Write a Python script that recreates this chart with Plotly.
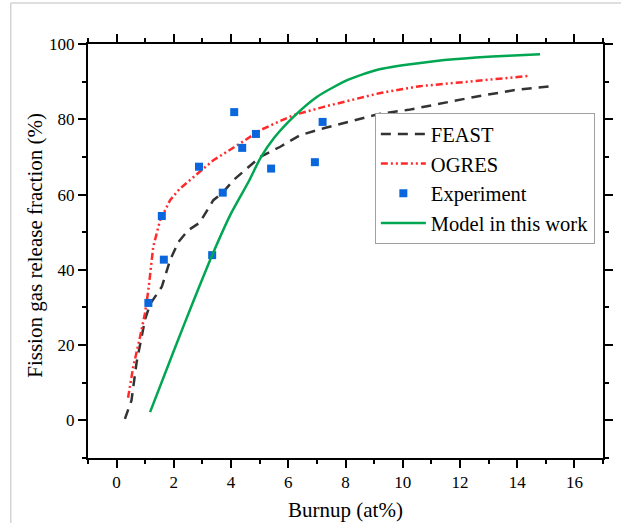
import plotly.graph_objects as go

# Burnup (at%) vs fission gas release fraction (%)
feast_x = [0.29, 0.52, 0.7, 0.87, 1.0, 1.18, 1.58, 1.87, 2.16, 2.5, 2.9, 3.38, 3.71, 4.08,
           4.55, 5.02, 5.72, 6.42, 7.24, 8.52, 9.22, 10.2, 11.9, 12.55, 13.95, 15.19]
feast_y = [0.4, 5.3, 15.5, 22.2, 27.0, 31.0, 35.5, 42.6, 47.4, 50.5, 52.5, 58.5, 60.5, 63.8,
           66.9, 70.0, 72.7, 75.8, 77.6, 80.2, 81.5, 82.5, 85.1, 86.0, 87.8, 88.8]

ogres_x = [0.4, 0.58, 0.82, 0.99, 1.11, 1.28, 1.52, 1.87, 2.2, 2.85, 3.38, 4.32, 5.02, 5.62,
           6.19, 7.24, 8.2, 9.22, 10.6, 11.7, 13.0, 14.4]
ogres_y = [6.0, 14.2, 22.2, 28.4, 34.6, 46.1, 53.2, 58.5, 61.5, 65.6, 69.1, 73.6, 77.1, 79.2,
           81.1, 83.3, 85.0, 87.0, 88.8, 89.5, 90.5, 91.5]

exp_x = [1.11, 1.58, 1.65, 2.88, 3.34, 3.71, 4.11, 4.39, 4.87, 5.40, 6.93, 7.20]
exp_y = [31.2, 54.3, 42.7, 67.4, 43.9, 60.5, 81.9, 72.4, 76.1, 66.9, 68.6, 79.3]

model_x = [1.17, 2.0, 2.7, 3.34, 4.0, 4.64, 5.02, 5.5, 6.19, 7.01, 8.06, 9.09, 10.06,
           11.17, 12.56, 13.7, 14.8]
model_y = [2.2, 18.5, 32.0, 43.9, 55.0, 63.8, 69.6, 75.0, 80.7, 86.0, 90.4, 93.1, 94.4,
           95.5, 96.4, 96.9, 97.3]

x_ticks = list(range(0, 17, 2))
y_ticks = list(range(0, 101, 20))

x_title = "Burnup (at%)"
y_title = "Fission gas release fraction (%)"

SERIF = "Liberation Serif, Times New Roman, serif"

fig = go.Figure()
fig.add_trace(go.Scatter(x=feast_x, y=feast_y, mode="lines", name="FEAST",
                         line=dict(color="#333333", width=2.5, dash="10px,7px")))
fig.add_trace(go.Scatter(x=ogres_x, y=ogres_y, mode="lines", name="OGRES",
                         line=dict(color="#ff2a2a", width=2.5, dash="7px,3px,2px,3px,2px,3px")))
fig.add_trace(go.Scatter(x=exp_x, y=exp_y, mode="markers", name="Experiment",
                         marker=dict(symbol="square", size=8, color="#0a66dc")))
fig.add_trace(go.Scatter(x=model_x, y=model_y, mode="lines", name="Model in this work",
                         line=dict(color="#00a651", width=2.5, shape="spline", smoothing=0.6)))

axis_common = dict(
    showline=True, linecolor="black", linewidth=2, mirror="allticks",
    ticks="outside", ticklen=8, tickwidth=2, tickcolor="black",
    showgrid=False, zeroline=False, automargin=False,
    tickfont=dict(family=SERIF, size=17, color="black"),
)

fig.update_xaxes(
    range=[-1, 17], tickvals=x_ticks, ticktext=[str(v) for v in x_ticks],
    minor=dict(ticks="outside", ticklen=4, tickwidth=2, tickcolor="black", dtick=1, tick0=0),
    **axis_common,
)
fig.update_yaxes(
    range=[-10, 100], tickvals=y_ticks, ticktext=[str(v) for v in y_ticks],
    minor=dict(ticks="outside", ticklen=4, tickwidth=2, tickcolor="black", dtick=10, tick0=0),
    **axis_common,
)

# axis titles
fig.add_annotation(text=x_title, xref="paper", yref="paper", x=0.5, y=-0.125,
                   xanchor="center", yanchor="middle", showarrow=False,
                   font=dict(family=SERIF, size=21, color="black"))
fig.add_annotation(text=y_title, xref="paper", yref="paper", x=-0.103, y=0.515,
                   xanchor="center", yanchor="middle", showarrow=False, textangle=-90,
                   font=dict(family=SERIF, size=21, color="black"))

# light outer border of the figure panel
fig.add_shape(type="line", xref="paper", yref="paper", x0=-0.150, x1=-0.150, y0=-0.2, y1=1.099,
              line=dict(color="#d4d4d4", width=1.5))
fig.add_shape(type="line", xref="paper", yref="paper", x0=-0.150, x1=1.1, y0=1.099, y1=1.099,
              line=dict(color="#d4d4d4", width=1.5))

fig.update_layout(
    width=621, height=523,
    margin=dict(l=88, r=18, t=44, b=65),
    paper_bgcolor="white", plot_bgcolor="white",
    showlegend=True,
    legend=dict(
        x=0.557, y=0.833, xanchor="left", yanchor="top",
        bgcolor="white", bordercolor="#a0a0a0", borderwidth=1,
        font=dict(family=SERIF, size=20.5, color="black"),
        itemwidth=45, tracegroupgap=0,
    ),
)

fig.write_html("out.html")
